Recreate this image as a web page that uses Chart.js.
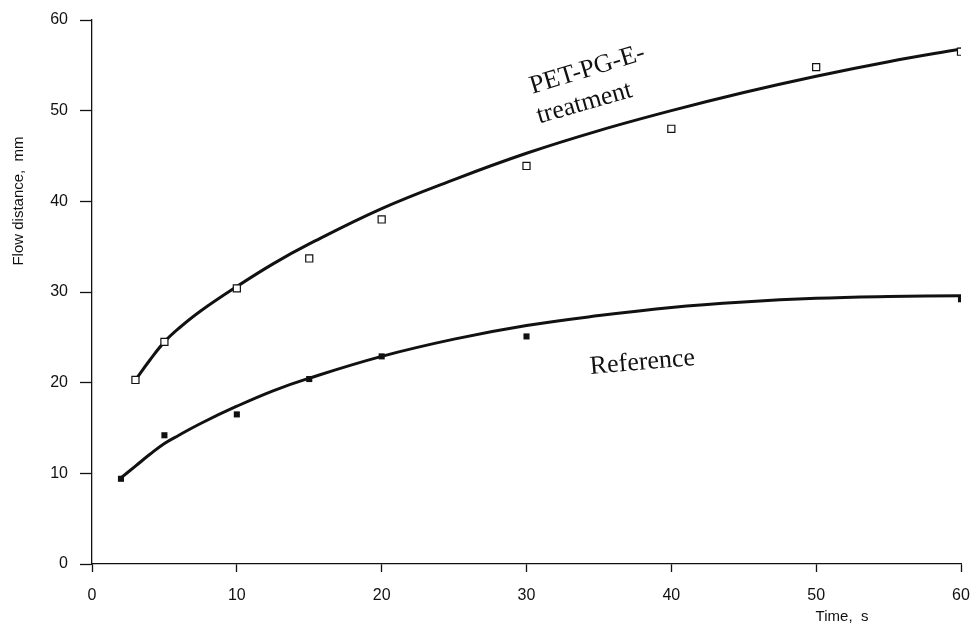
<!DOCTYPE html>
<html>
<head>
<meta charset="utf-8">
<script src="https://cdn.jsdelivr.net/npm/chart.js@4.4.1/dist/chart.umd.min.js"></script>
<style>
  html, body { margin: 0; padding: 0; background: #fff; }
  #wrap { width: 971px; height: 625px; position: relative; }
</style>
</head>
<body>
<div id="wrap"><canvas id="grafico"></canvas></div>
<script>
// measured points
const petTime = [3, 5, 10, 15, 20, 30, 40, 50, 60];
const petFlow = [20.3, 24.5, 30.4, 33.7, 38.0, 43.9, 48.0, 54.8, 56.5];
const refTime = [2, 5, 10, 15, 20, 30, 60];
const refFlow = [9.4, 14.2, 16.5, 20.4, 22.9, 25.1, 29.2];

// fitted curves
const petCurveTime = [3, 4, 5, 6, 7.5, 10, 12.5, 15, 20, 25, 30, 35, 40, 45, 50, 55, 60];
const petCurveFlow = [20.3, 22.5, 24.5, 26.0, 27.9, 30.6, 33.1, 35.3, 39.2, 42.4, 45.3, 47.8, 50.0, 52.0, 53.8, 55.4, 56.8];
const refCurveTime = [2, 3, 4, 5, 6, 7.5, 10, 12.5, 15, 20, 25, 30, 35, 40, 45, 50, 55, 60];
const refCurveFlow = [9.5, 10.8, 12.1, 13.3, 14.2, 15.5, 17.4, 19.1, 20.5, 22.9, 24.8, 26.3, 27.4, 28.3, 28.9, 29.3, 29.5, 29.6];

const xTicks = [0, 10, 20, 30, 40, 50, 60];
const yTicks = [0, 10, 20, 30, 40, 50, 60];

const xTitle = 'Time,  s';
const yTitle = 'Flow distance,  mm';
const curveLabels = [
    { text: 'PET-PG-E-', x: 34.2, y: 54.5, angle: -17 },
    { text: 'treatment', x: 34.0, y: 50.8, angle: -16 },
    { text: 'Reference', x: 38.0, y: 22.2, angle: -5 }
];

function pares(xs, ys) {
    return xs.map((v, i) => ({ x: v, y: ys[i] }));
}

const sans = '"Liberation Sans", Arial, sans-serif';
const serif = '"Liberation Serif", "Times New Roman", serif';

// textos extras: titulos dos eixos e rotulos das curvas
const textos = {
    id: 'textos',
    afterDraw(chart) {
        const ctx = chart.ctx;
        const sx = chart.scales.x;
        const sy = chart.scales.y;
        ctx.save();
        ctx.fillStyle = '#111';
        ctx.textAlign = 'center';
        ctx.textBaseline = 'middle';

        ctx.font = '15px ' + sans;
        ctx.fillText(xTitle, 842, 617);

        ctx.save();
        ctx.translate(19, 201);
        ctx.rotate(-Math.PI / 2);
        ctx.fillText(yTitle, 0, 0);
        ctx.restore();

        ctx.font = '26px ' + serif;
        curveLabels.forEach(l => {
            ctx.save();
            ctx.translate(sx.getPixelForValue(l.x), sy.getPixelForValue(l.y));
            ctx.rotate(l.angle * Math.PI / 180);
            ctx.fillText(l.text, 0, 0);
            ctx.restore();
        });
        ctx.restore();
    }
};

const ctx = document.getElementById('grafico').getContext('2d');
new Chart(ctx, {
    type: 'scatter',
    data: {
        datasets: [
            {
                label: 'PET-PG-E-treatment',
                data: pares(petTime, petFlow),
                pointStyle: 'rect',
                pointRadius: 5,
                pointBackgroundColor: '#fff',
                pointBorderColor: '#111',
                pointBorderWidth: 1.2,
                showLine: false,
                order: 0
            },
            {
                label: 'Reference',
                data: pares(refTime, refFlow),
                pointStyle: 'rect',
                pointRadius: 4.3,
                pointBackgroundColor: '#111',
                pointBorderColor: '#111',
                pointBorderWidth: 0,
                showLine: false,
                order: 0
            },
            {
                label: 'PET fit',
                data: pares(petCurveTime, petCurveFlow),
                showLine: true,
                borderColor: '#111',
                borderWidth: 3,
                pointRadius: 0,
                tension: 0.4,
                order: 1
            },
            {
                label: 'Reference fit',
                data: pares(refCurveTime, refCurveFlow),
                showLine: true,
                borderColor: '#111',
                borderWidth: 3,
                pointRadius: 0,
                tension: 0.4,
                order: 1
            }
        ]
    },
    options: {
        responsive: true,
        maintainAspectRatio: false,
        animation: false,
        layout: { padding: { top: 20, right: 10, left: 0, bottom: 0 } },
        plugins: {
            legend: { display: false },
            tooltip: { enabled: false }
        },
        scales: {
            x: {
                type: 'linear',
                min: 0,
                max: 60,
                afterBuildTicks: s => { s.ticks = xTicks.map(v => ({ value: v })); },
                afterFit: s => { s.height = 61; s.paddingLeft = 0; s.paddingRight = 0; },
                border: { color: '#111', width: 1.3 },
                grid: { drawOnChartArea: false, drawTicks: true, tickLength: 8, color: '#111', tickWidth: 1.3 },
                ticks: { color: '#111', padding: 14, font: { family: sans, size: 16 } }
            },
            y: {
                type: 'linear',
                min: 0,
                max: 60,
                afterBuildTicks: s => { s.ticks = yTicks.map(v => ({ value: v })); },
                afterFit: s => { s.width = 92; s.paddingTop = 0; s.paddingBottom = 0; },
                border: { color: '#111', width: 1.3 },
                grid: { drawOnChartArea: false, drawTicks: true, tickLength: 12, color: '#111', tickWidth: 1.3 },
                ticks: { color: '#111', padding: 12, font: { family: sans, size: 16 } }
            }
        }
    },
    plugins: [textos]
});
</script>
</body>
</html>
